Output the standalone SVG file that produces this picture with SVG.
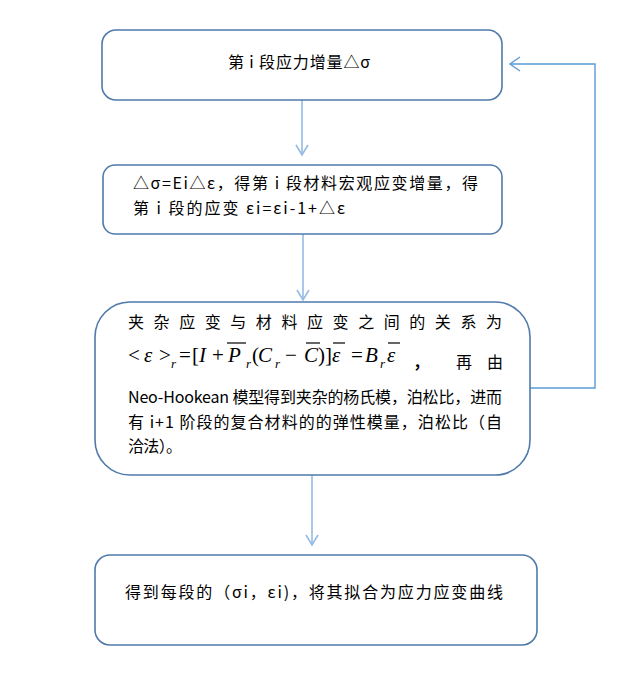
<svg xmlns="http://www.w3.org/2000/svg" width="631" height="684" viewBox="0 0 631 684">
<style>
.box{fill:#ffffff;stroke:#4f7aab;stroke-width:1.6}
.t{font-family:"Noto Sans CJK SC","Liberation Sans",sans-serif;font-size:16px;fill:#000}
.m{font-family:"Liberation Serif",serif;font-size:21px;fill:#000}
.mi{font-family:"Liberation Serif",serif;font-size:21px;font-style:italic;fill:#000}
.ms{font-family:"Liberation Serif",serif;font-size:13px;font-style:italic;fill:#000}
.ol{stroke:#000;stroke-width:1.2}
.c{fill:none;stroke:#95bbe4;stroke-width:1.6}
.fb{fill:none;stroke:#5b9bd5;stroke-width:1.4}
</style>
<rect width="631" height="684" fill="#ffffff"/>
<g id="connectors">
<line class="c" x1="302" y1="100" x2="302" y2="155"/>
<polyline class="c" points="296,145 302,155 308,145"/>
<line class="c" x1="303" y1="234" x2="303" y2="300"/>
<polyline class="c" points="297,290 303,300 309,290"/>
<line class="c" x1="312" y1="475" x2="312" y2="545"/>
<polyline class="c" points="306,535 312,545 318,535"/>
<polyline class="fb" points="530,388 595,388 595,64 510,64"/>
<polyline class="fb" points="520,57 510,64 520,71"/>
</g>
<g id="node1">
<rect class="box" x="102" y="30" width="400" height="70" rx="14"/>
<text class="t" x="228" y="68" textLength="142" lengthAdjust="spacing">第 i 段应力增量△σ</text>
</g>
<g id="node2">
<rect class="box" x="103" y="165" width="399" height="69" rx="12"/>
<text class="t" x="133" y="189" textLength="345" lengthAdjust="spacing">△σ=Ei△ε，得第 i 段材料宏观应变增量，得</text>
<text class="t" x="133" y="214" textLength="212" lengthAdjust="spacing">第 i 段的应变 εi=εi-1+△ε</text>
</g>
<g id="node3">
<rect class="box" x="95" y="302" width="435" height="173" rx="35"/>
<text class="t" x="128" y="328" textLength="374" lengthAdjust="spacing">夹杂应变与材料应变之间的关系为</text>
<text class="m" x="128" y="362">&lt;</text>
<text class="mi" x="144" y="362">ε</text>
<text class="m" x="159" y="362">&gt;</text>
<text class="ms" x="171" y="368">r</text>
<text class="m" x="179" y="362">=</text>
<text class="m" x="192" y="362">[</text>
<text class="mi" x="199" y="362">I</text>
<text class="m" x="212" y="362">+</text>
<text class="mi" x="228" y="362">P</text>
<line class="ol" x1="227" y1="343" x2="246" y2="343"/>
<text class="ms" x="246" y="368">r</text>
<text class="m" x="252" y="362">(</text>
<text class="mi" x="258" y="362">C</text>
<text class="ms" x="275" y="368">r</text>
<text class="m" x="285" y="362">−</text>
<text class="mi" x="304" y="362">C</text>
<line class="ol" x1="306" y1="343" x2="320" y2="343"/>
<text class="m" x="318" y="362">)</text>
<text class="m" x="325" y="362">]</text>
<text class="mi" x="332" y="362">ε</text>
<line class="ol" x1="333" y1="343" x2="345" y2="343"/>
<text class="m" x="351" y="362">=</text>
<text class="mi" x="365" y="362">B</text>
<text class="ms" x="380" y="368">r</text>
<text class="mi" x="387" y="362">ε</text>
<line class="ol" x1="388" y1="343" x2="400" y2="343"/>
<text class="t" x="413" y="368" font-weight="bold">，</text>
<text class="t" x="456" y="368">再</text>
<text class="t" x="487" y="368">由</text>
<text class="t" x="128" y="403" textLength="374" lengthAdjust="spacing">Neo-Hookean 模型得到夹杂的杨氏模，泊松比，进而</text>
<text class="t" x="128" y="428" textLength="374" lengthAdjust="spacing">有 i+1 阶段的复合材料的的弹性模量，泊松比（自</text>
<text class="t" x="128" y="452" textLength="54" lengthAdjust="spacing">洽法）。</text>
</g>
<g id="node4">
<rect class="box" x="95" y="555" width="442" height="90" rx="15"/>
<text class="t" x="125" y="598" textLength="378" lengthAdjust="spacing">得到每段的（σi，εi)，将其拟合为应力应变曲线</text>
</g>
</svg>
